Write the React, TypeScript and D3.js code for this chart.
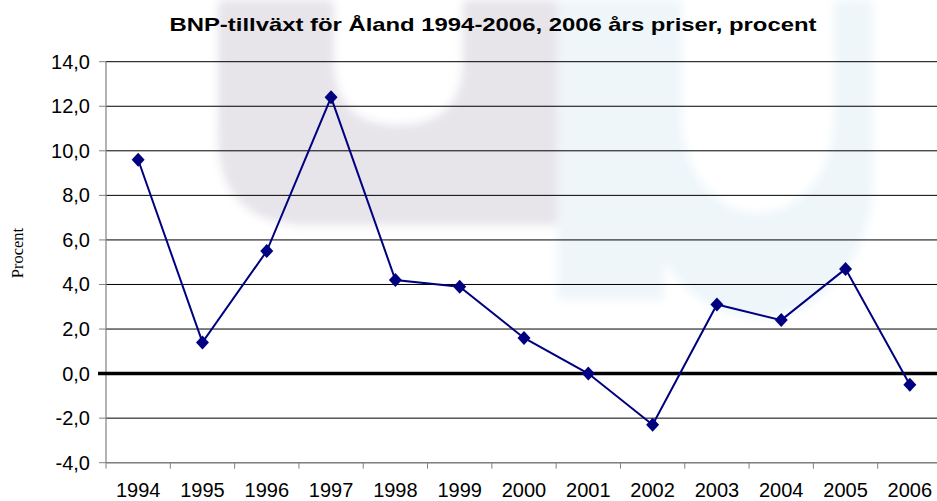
import React from "react";
import * as d3 from "d3";

const years = ["1994","1995","1996","1997","1998","1999","2000","2001","2002","2003","2004","2005","2006"];
const growth = [9.6, 1.4, 5.5, 12.4, 4.2, 3.9, 1.6, 0.0, -2.3, 3.1, 2.4, 4.7, -0.5];
const yTicks = [-4, -2, 0, 2, 4, 6, 8, 10, 12, 14];
const title = "BNP-tillväxt för Åland 1994-2006, 2006 års priser, procent";
const yLabel = "Procent";

const W = 937, H = 501;
const left = 106, right = 942, top = 61.7, bottom = 462.7;

export default function App() {
  const x = d3.scaleBand<string>().domain(years).range([left, right]).padding(0);
  const y = d3.scaleLinear().domain([-4, 14]).range([bottom, top]);
  const cx = (yr: string) => (x(yr) as number) + x.bandwidth() / 2;
  const line = d3.line<number>().x((_, i) => cx(years[i])).y((d) => y(d));
  const diamond = "M0,-7L6.5,0L0,7L-6.5,0Z";
  const font = "'Liberation Sans', Arial, Helvetica, sans-serif";

  // watermark shapes
  const lav = "M218,0 L557,0 L557,225 L308,225 Q218,225 218,135 Z M334,0 L334,60 Q334,125 398,125 Q463,125 463,60 L463,0 Z";
  const blue = "M557,0 L873,0 L873,180 A115,137 0 0 1 664,260 L664,300 L557,300 Z M682,0 L682,120 A76,93 0 0 0 834,120 L834,0 Z";

  return (
    <svg width={W} height={H} style={{ position: "absolute", left: 0, top: 0, background: "#fff" }}>
      <defs>
        <filter id="blur" x="-20%" y="-20%" width="140%" height="140%">
          <feGaussianBlur stdDeviation="5" />
        </filter>
      </defs>
      <g filter="url(#blur)">
        <path d={lav} fill="#e7e4ea" fillRule="evenodd" />
        <path d={blue} fill="#eef6fa" fillRule="evenodd" />
      </g>

      <text x={493} y={31} textAnchor="middle" fontFamily={font} fontWeight="bold" fontSize={19} textLength={647} lengthAdjust="spacingAndGlyphs" fill="#000">{title}</text>

      {yTicks.filter((t) => t !== 0).map((t) => (
        <line key={"g" + t} x1={left} x2={W} y1={y(t)} y2={y(t)} stroke="#000" strokeWidth={1} />
      ))}
      {yTicks.map((t) => (
        <line key={"t" + t} x1={99} x2={left} y1={y(t)} y2={y(t)} stroke="#808080" strokeWidth={1} />
      ))}
      <line x1={left} x2={left} y1={top} y2={bottom} stroke="#808080" strokeWidth={1.2} />
      <line x1={left} x2={W} y1={bottom} y2={bottom} stroke="#808080" strokeWidth={1.2} />
      {years.map((yr) => (
        <line key={"xt" + yr} x1={x(yr) as number} x2={x(yr) as number} y1={bottom} y2={bottom + 6} stroke="#808080" strokeWidth={1} />
      ))}
      <line x1={98} x2={W} y1={y(0)} y2={y(0)} stroke="#000" strokeWidth={3.5} />

      {yTicks.map((t) => (
        <text key={"yl" + t} x={90} y={y(t)} dy="0.35em" textAnchor="end" fontFamily={font} fontSize={20} fill="#000">
          {d3.format(".1f")(t).replace(".", ",").replace("−", "-")}
        </text>
      ))}
      {years.map((yr) => (
        <text key={"xl" + yr} x={cx(yr)} y={497} textAnchor="middle" fontFamily={font} fontSize={20} fill="#000">{yr}</text>
      ))}
      <text transform={`translate(23,253) rotate(-90)`} textAnchor="middle" fontFamily="'Liberation Serif', 'Times New Roman', serif" fontSize={16.5} fill="#000">{yLabel}</text>

      <path d={line(growth) ?? ""} fill="none" stroke="#000080" strokeWidth={2} />
      {growth.map((v, i) => (
        <path key={"m" + i} d={diamond} transform={`translate(${cx(years[i])},${y(v)})`} fill="#000080" />
      ))}
    </svg>
  );
}
